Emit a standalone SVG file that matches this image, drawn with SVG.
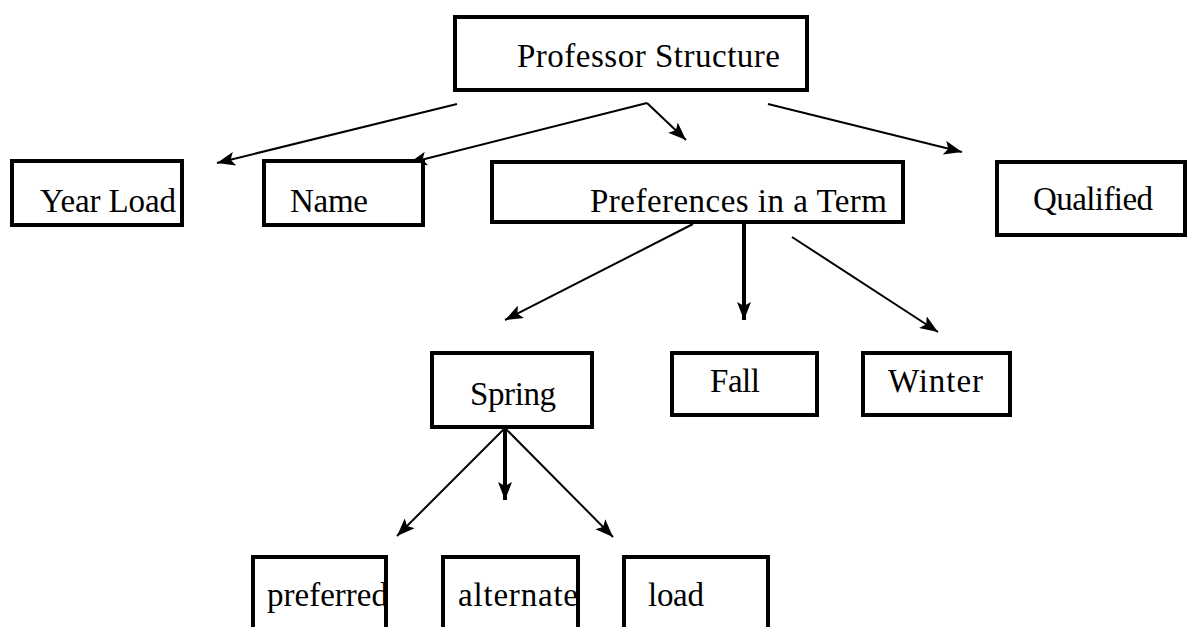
<svg xmlns="http://www.w3.org/2000/svg" width="1188" height="627" viewBox="0 0 1188 627">
  <style>
    .box { fill: #fff; stroke: #000; stroke-width: 4; }
    .lbl { font-family: "Liberation Serif", "Times New Roman", serif; font-size: 33px; fill: #000; }
    .edge { stroke: #000; stroke-width: 2; fill: none; marker-end: url(#head); }
    .edge.thick { stroke-width: 4; }
  </style>
  <defs>
    <marker id="head" markerUnits="userSpaceOnUse" markerWidth="20" markerHeight="14" refX="18" refY="7" orient="auto">
      <path d="M0,0 L18,7 L0,14 L4,7 z" fill="#000"/>
    </marker>
  </defs>

  <rect width="1188" height="627" fill="#fff"/>

  <g id="connectors">
    <line class="edge" x1="457" y1="104" x2="217" y2="163"/>
    <line class="edge" x1="647" y1="103" x2="409" y2="163"/>
    <line class="edge" x1="647" y1="103" x2="686" y2="140"/>
    <line class="edge" x1="768" y1="104" x2="962" y2="152"/>
    <line class="edge" x1="693" y1="224" x2="505" y2="320"/>
    <line class="edge thick" x1="744" y1="224" x2="744" y2="320"/>
    <line class="edge" x1="792" y1="237" x2="938" y2="332"/>
    <line class="edge" x1="505" y1="428" x2="397" y2="536"/>
    <line class="edge thick" x1="505" y1="428" x2="505" y2="500"/>
    <line class="edge" x1="505" y1="428" x2="613" y2="537"/>
  </g>

  <g id="professor-structure">
    <rect class="box" x="455" y="17" width="352" height="73"/>
    <text class="lbl" x="517" y="67" textLength="263" lengthAdjust="spacing">Professor Structure</text>
  </g>

  <g id="year-load">
    <rect class="box" x="12" y="161" width="170" height="64"/>
    <text class="lbl" x="40" y="212" textLength="136" lengthAdjust="spacing">Year Load</text>
  </g>

  <g id="name">
    <rect class="box" x="264" y="161" width="159" height="64"/>
    <text class="lbl" x="290" y="212" textLength="78" lengthAdjust="spacing">Name</text>
  </g>

  <g id="preferences">
    <rect class="box" x="492" y="162" width="411" height="60"/>
    <text class="lbl" x="590" y="212" textLength="297" lengthAdjust="spacing">Preferences in a Term</text>
  </g>

  <g id="qualified">
    <rect class="box" x="997" y="162" width="188" height="73"/>
    <text class="lbl" x="1033" y="210" textLength="120" lengthAdjust="spacing">Qualified</text>
  </g>

  <g id="spring">
    <rect class="box" x="432" y="353" width="160" height="74"/>
    <text class="lbl" x="470" y="405" textLength="86" lengthAdjust="spacing">Spring</text>
  </g>

  <g id="fall">
    <rect class="box" x="672" y="353" width="145" height="62"/>
    <text class="lbl" x="710" y="392" textLength="50" lengthAdjust="spacing">Fall</text>
  </g>

  <g id="winter">
    <rect class="box" x="863" y="353" width="147" height="62"/>
    <text class="lbl" x="888" y="392" textLength="95" lengthAdjust="spacing">Winter</text>
  </g>

  <g id="preferred">
    <rect class="box" x="253" y="557" width="133" height="90"/>
    <text class="lbl" x="267" y="606" textLength="121" lengthAdjust="spacing">preferred</text>
  </g>

  <g id="alternate">
    <rect class="box" x="443" y="557" width="135" height="90"/>
    <text class="lbl" x="458" y="606" textLength="120" lengthAdjust="spacing">alternate</text>
  </g>

  <g id="load">
    <rect class="box" x="624" y="557" width="144" height="90"/>
    <text class="lbl" x="648" y="606" textLength="56" lengthAdjust="spacing">load</text>
  </g>
</svg>
